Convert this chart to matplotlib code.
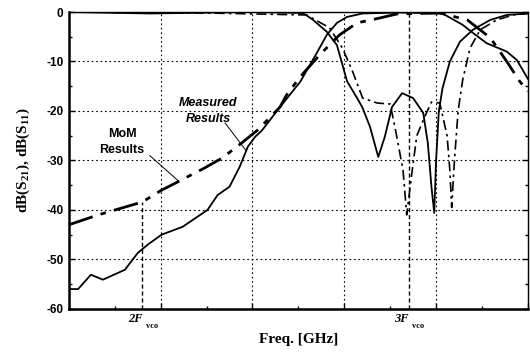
import matplotlib.pyplot as plt
from matplotlib.ticker import MultipleLocator, NullFormatter
import matplotlib.transforms as mtransforms

# --- data (freq in GHz, levels in dB) ---
meas_s21_f = [5.00, 5.10, 5.24, 5.37, 5.61, 5.75, 5.86, 6.01, 6.24, 6.51, 6.62, 6.75,
              6.86, 6.95, 7.03, 7.10, 7.30, 7.52, 7.70, 7.81, 7.92, 8.03, 8.20, 8.61,
              9.07, 9.29, 9.40, 9.55, 9.77, 9.88, 10.00]
meas_s21_db = [-56, -56, -53.1, -54.1, -52.1, -48.7, -47, -45, -43.4, -40, -37, -35.3,
               -31.3, -27.2, -25.2, -24, -19.2, -14.1, -8.3, -4.6, -2.2, -1.0, -0.3, -0.1,
               -0.3, -2.6, -4.2, -6.3, -8.0, -9.7, -13.5]

mom_s21_f = [5.00, 5.32, 5.80, 6.01, 6.19, 6.48, 6.67, 6.88, 7.06, 7.30, 7.37, 7.52,
             7.73, 7.95, 8.14, 8.39, 8.57, 9.04, 9.34, 9.59, 9.77, 9.91, 10.00]
mom_s21_db = [-43, -41, -38.4, -36, -34.3, -31.5, -29.5, -26.5, -23.8, -19.2, -16.8, -13.1,
              -8.7, -4.6, -2.2, -1.2, -0.4, -0.2, -1.6, -5.2, -10, -14, -16]

meas_s11_f = [5.00, 5.88, 6.97, 7.55, 7.66, 7.81, 7.92, 7.97, 8.03, 8.14, 8.20, 8.28,
              8.37, 8.44, 8.52, 8.63, 8.75, 8.86, 8.91, 8.95, 8.98, 9.00, 9.03, 9.07,
              9.15, 9.26, 9.40, 9.59, 9.77, 10.00]
meas_s11_db = [0, -0.3, 0, -0.2, -1.6, -4, -6.7, -10, -14, -17.4, -19.4, -23.2,
               -29.3, -25.3, -19.2, -16.4, -17.4, -20.4, -26.5, -35.4, -40.6, -30, -20, -15.4,
               -10, -6, -3.6, -1.6, -0.6, -0.3]

mom_s11_f = [5.00, 6.50, 7.59, 7.84, 7.98, 8.09, 8.20, 8.36, 8.50, 8.57, 8.64, 8.68,
             8.74, 8.79, 8.88, 8.95, 9.04, 9.12, 9.15, 9.17, 9.20, 9.24, 9.29, 9.37,
             9.48, 9.66, 9.84, 10.00]
mom_s11_db = [0, -0.2, -0.6, -3.2, -7.3, -12, -17.4, -18.4, -18.6, -25, -32, -41,
              -32, -25, -21, -18.2, -18.4, -25, -32, -39.5, -30, -20, -13.7, -7.3,
              -3.6, -1.6, -0.6, -0.3]

f_vco = 2.9
harmonics = [2, 3]
harm_labels = ['2F', '3F']

y_ticks = [0, -10, -20, -30, -40, -50, -60]

# --- figure ---
plt.rcParams['axes.unicode_minus'] = False
plt.rcParams['mathtext.fontset'] = 'custom'
plt.rcParams['mathtext.rm'] = 'Liberation Serif:bold'
plt.rcParams['mathtext.it'] = 'Liberation Serif:bold:italic'

fig = plt.figure(figsize=(5.3, 3.53), dpi=100)
ax = fig.add_axes([0.130, 0.125, 0.866, 0.841])

ax.set_xlim(5, 10)
ax.set_ylim(-60, 0)

ax.plot(meas_s21_f, meas_s21_db, color='black', lw=1.3)
ax.plot(meas_s11_f, meas_s11_db, color='black', lw=1.3)
ax.plot(mom_s21_f, mom_s21_db, color='black', lw=2.0, dashes=(9, 3, 2, 3))
ax.plot(mom_s11_f, mom_s11_db, color='black', lw=1.2, dashes=(6, 2.5, 1.5, 2.5))

# harmonic markers
ax.vlines(harmonics[0] * f_vco, -60, mom_s21_db[2], colors='black', linestyles=(0, (3, 2)), lw=1.0)
ax.axvline(harmonics[1] * f_vco, color='black', ls=(0, (3, 2)), lw=1.0)

trans = mtransforms.blended_transform_factory(ax.transData, ax.transAxes)
for h, lab in zip(harmonics, harm_labels):
    ax.text(h * f_vco, -0.015, lab, transform=trans, ha='right', va='top',
            fontsize=9, family='Liberation Serif', fontweight='bold', style='italic')
    ax.text(h * f_vco + 0.04, -0.045, 'vco', transform=trans, ha='left', va='top',
            fontsize=6, family='Liberation Serif', fontweight='bold')

# grid and ticks
ax.xaxis.set_major_locator(MultipleLocator(1))
ax.xaxis.set_minor_locator(MultipleLocator(0.5))
ax.xaxis.set_major_formatter(NullFormatter())
ax.set_yticks(y_ticks)
ax.yaxis.set_minor_locator(MultipleLocator(5))
ax.grid(True, which='major', color='black', ls=(0, (1.5, 2.5)), lw=0.8)
ax.tick_params(which='both', direction='in', top=False, right=True, width=1)
ax.tick_params(which='major', length=4)
ax.tick_params(which='minor', length=2.5)
ax.tick_params(axis='y', pad=4)
for lbl in ax.get_yticklabels():
    lbl.set_fontfamily('Liberation Sans')
    lbl.set_fontweight('bold')
    lbl.set_fontsize(8.5)
for side in ['left', 'bottom']:
    ax.spines[side].set_linewidth(1.8)
for side in ['top', 'right']:
    ax.spines[side].set_linewidth(1.0)

ax.set_xlabel('Freq. [GHz]', family='Liberation Serif', fontweight='bold', fontsize=11, labelpad=14)
ax.set_ylabel(r'dB(S$_{21}$), dB(S$_{11}$)', family='Liberation Serif', fontweight='bold',
              fontsize=11, labelpad=10)

# annotations: labels plus thin leader lines to the curves
ax.text(6.52, -20.0, 'Measured\nResults', ha='center', va='center', fontsize=9,
        family='Liberation Sans', fontweight='bold', style='italic', linespacing=1.5)
ax.annotate('', xy=(6.93, -28.0), xytext=(6.70, -22.4),
            arrowprops=dict(arrowstyle='-', color='black', lw=0.7, shrinkA=0, shrinkB=0))
ax.text(5.58, -26.3, 'MoM\nResults', ha='center', va='center', fontsize=9,
        family='Liberation Sans', fontweight='bold', linespacing=1.5)
ax.annotate('', xy=(6.19, -34.1), xytext=(5.88, -29.0),
            arrowprops=dict(arrowstyle='-', color='black', lw=0.7, shrinkA=0, shrinkB=0))

fig.savefig('out.png', dpi=100)
